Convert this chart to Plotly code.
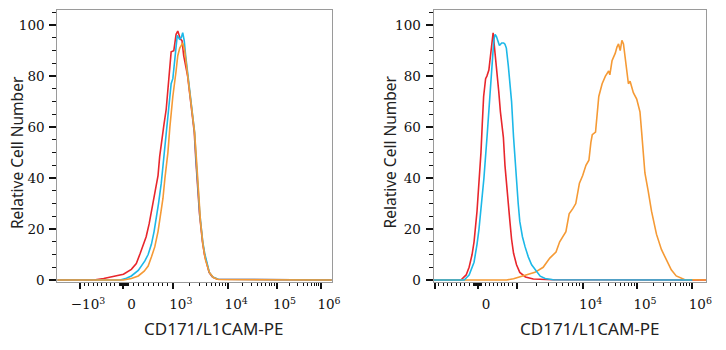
import math
import plotly.graph_objects as go

# ---------------- data (x = display channel on the biexponential scale, y = % of max) -------------
left_red_x = [0, 37, 47, 57, 67, 75, 80, 84, 87, 90, 93, 95.3, 98, 100.5, 102, 103.7, 105.3, 108, 110.3, 112, 113.7,
              115.3, 118, 120.3, 122, 124.7, 126.3, 128, 132, 135.3, 138.7, 140.3, 142, 144, 147, 149, 153.7, 157, 162, 278]
left_red_y = [0, 0, 0.6, 1.4, 2.3, 4.2, 6.5, 10.5, 13.5, 17, 22, 27, 32, 37, 41, 48.5, 53.6, 61, 67, 76, 84,
              89.5, 90, 96.4, 97.7, 94.5, 93.9, 88, 80, 70, 58, 47, 38, 26, 15, 10, 3, 1.2, 0.3, 0]

left_cyan_x = [0, 63.7, 70, 75, 82, 88.7, 92, 95.3, 98, 100.3, 102.5, 105.3, 107, 110.3, 112, 113.7, 115.3, 117, 118.7,
               120.3, 121.5, 123.7, 125.5, 127, 128.5, 130, 132.5, 135.5, 139, 140.6, 142.3, 144.3, 147.3, 149.5, 154,
               157.5, 163, 278]
left_cyan_y = [0, 0, 0.7, 1.6, 3.8, 7.5, 10, 14, 19, 24, 30, 38, 45, 56, 64, 72, 77, 79, 85,
               92, 96, 94.5, 95, 97, 94, 88, 80, 70, 58, 47, 38, 26, 15, 10, 3,
               1.2, 0.3, 0]

left_orange_x = [0, 67, 75, 82, 88, 92, 95.3, 98.7, 102, 104, 107, 109, 112, 114, 117, 120.3, 122, 124, 127, 129, 132,
                 135.3, 139, 141, 143, 145, 147.5, 150, 154, 158, 163, 278]
left_orange_y = [0, 0, 0.6, 1.6, 3.5, 5.5, 9, 13, 19, 24, 32, 40, 50, 60, 72, 82, 88, 91, 93, 90, 81,
                 71, 58, 47, 35, 23, 14, 8, 3, 1, 0.2, 0]

right_red_x = [0, 27.7, 33, 36, 39, 41, 44, 46, 48, 49.3, 50.7, 52.7, 54, 56, 57.7, 60.3, 62, 64, 66, 67.7, 70.7, 72.3,
               74.3, 77.3, 79, 81, 84, 87.3, 93, 101, 121, 276]
right_red_y = [0, 0, 2, 5, 10, 15, 27, 38, 50, 61, 72, 79, 80, 82.4, 89, 97, 90, 83, 74, 66, 56, 45,
               35, 23, 16, 10.5, 6, 3, 1.2, 0.4, 0.1, 0]

right_cyan_x = [0, 31, 36, 41, 44, 46, 48.5, 51, 54.3, 56, 57.7, 59.3, 61, 62.3, 63.7, 65, 66.7, 69, 71, 72.3, 73.7,
                75.7, 77, 79, 81, 82.5, 84, 85.7, 87.3, 90, 92.7, 96, 99.3, 104, 108, 113, 121, 262]
right_cyan_y = [0, 0, 2, 7, 14, 20, 30, 40, 57, 67, 76, 86, 94, 96.4, 95.5, 94, 92, 93, 93, 92.5, 91,
                84, 78, 70, 56, 47, 38, 30, 23, 17, 13, 9, 6, 3.5, 1.5, 0.6, 0.1, 0]

right_orange_x = [0, 74, 81, 90.7, 102.7, 111, 117.7, 124, 127.7, 134, 137.3, 141, 144, 147.7, 151, 154.3, 157.3, 159.3,
                  160.7, 164, 167.3, 170.7, 174, 177.3, 178.5, 180.7, 184, 185.7, 187.3, 189, 190.7, 192.3, 194.7,
                  197.3, 199, 202.3, 205.7, 209, 210.7, 212.3, 214, 217.3, 220.7, 225.7, 230.7, 235.7, 240.7, 245.7,
                  254, 276]
right_orange_y = [0, 0, 0.5, 1.5, 3, 5, 8.6, 11, 15, 19, 26, 28, 30, 38, 41, 45, 47, 54,
                  57, 58, 72, 77, 80, 82, 80.5, 86, 89, 91.4, 92.6, 90, 94, 92.6, 84,
                  77, 78, 73.5, 71, 66, 58, 50.6, 42, 35, 27, 18, 12, 8, 4, 1.6,
                  0.2, 0]

# axis labels
left_tick_values = [-1e3, 0, 1e3, 1e4, 1e5, 1e6]
left_tick_text = ["−10<sup>3</sup>", "0", "10<sup>3</sup>", "10<sup>4</sup>", "10<sup>5</sup>", "10<sup>6</sup>"]
right_tick_values = [-1e3, 0, 1e3, 1e4, 1e5, 1e6]
right_tick_text = ["", "0", "", "10<sup>4</sup>", "10<sup>5</sup>", "10<sup>6</sup>"]
y_tick_values = [0, 20, 40, 60, 80, 100]
x_title = "CD171/L1CAM-PE"
y_title = "Relative Cell Number"

# biexponential display calibration: value -> channel for each panel
left_cal = {-1e3: 23, 0: 67, 1e3: 117, 1e4: 173, 1e5: 222, 1e6: 267}
right_cal = {-1e3: 1, 0: 45, 1e3: 84, 1e4: 151, 1e5: 206, 1e6: 262}

RED, CYAN, ORANGE = "#e8262c", "#1cb8e8", "#f59a35"


def biex(v, cal):
    if v in cal:
        return cal[v]
    if v <= 0:
        return cal[0] + (cal[0] - cal[-1e3]) * v / 1e3
    if v <= 1e3:
        return cal[0] + (cal[1e3] - cal[0]) * v / 1e3
    k = min(5, int(math.floor(math.log10(v) + 1e-9)))
    lo, hi = 10.0 ** k, 10.0 ** (k + 1)
    return cal[lo] + (cal[hi] - cal[lo]) * (math.log10(v) - k)


def minor_values():
    vals = []
    for s in (-1, 1):
        vals += [s * m * 10 for m in range(1, 10)]
        vals += [s * m * 100 for m in range(1, 10)]
    for k in (3, 4, 5):
        vals += [m * 10 ** k for m in range(2, 10)]
    return vals


fig = go.Figure()
for xs, ys, col, ax in [
    (left_red_x, left_red_y, RED, "x"),
    (left_cyan_x, left_cyan_y, CYAN, "x"),
    (left_orange_x, left_orange_y, ORANGE, "x"),
    (right_red_x, right_red_y, RED, "x2"),
    (right_orange_x, right_orange_y, ORANGE, "x2"),
    (right_cyan_x, right_cyan_y, CYAN, "x2"),
]:
    fig.add_trace(go.Scatter(x=xs, y=ys, mode="lines", line=dict(color=col, width=1.6),
                             xaxis=ax, yaxis="y" if ax == "x" else "y2", showlegend=False,
                             hoverinfo="skip"))

W, H = 726, 350
tickfont = dict(family="DejaVu Serif", size=13.5, color="#111")


def xaxis(dom, cal, tv, tt, rng, anchor):
    return dict(domain=dom, range=rng, anchor=anchor, showgrid=False, zeroline=False,
                showline=True, mirror=True, linecolor="#9a9a9a", linewidth=1,
                tickmode="array", tickvals=[biex(v, cal) for v in tv], ticktext=tt,
                ticks="outside", ticklen=6, tickwidth=2, tickcolor="#111",
                tickfont=tickfont, ticklabelshift=8, ticklabelstandoff=4,
                minor=dict(tickmode="array", tickvals=[biex(v, cal) for v in minor_values()],
                           ticks="outside", ticklen=3, tickwidth=1, tickcolor="#111"))


def yaxis(anchor, dom):
    return dict(domain=dom, anchor=anchor, range=[-0.8, 106], showgrid=False, zeroline=False,
                showline=True, mirror=True, linecolor="#9a9a9a", linewidth=1,
                tickmode="array", tickvals=y_tick_values, ticks="outside", ticklen=7, tickwidth=2,
                tickcolor="#111", tickfont=tickfont, ticklabelstandoff=2,
                minor=dict(dtick=5, ticks="outside", ticklen=4, tickwidth=1, tickcolor="#111"))


ydom = [(350 - 287) / H, (350 - 10) / H]
fig.update_layout(
    width=W, height=H, margin=dict(l=0, r=0, t=0, b=0),
    paper_bgcolor="white", plot_bgcolor="white",
    xaxis=xaxis([58 / W, 336 / W], left_cal, left_tick_values, left_tick_text, [0, 278], "y"),
    xaxis2=xaxis([439 / W, 715 / W], right_cal, right_tick_values, right_tick_text, [0, 276], "y2"),
    yaxis=yaxis("x", ydom),
    yaxis2=yaxis("x2", ydom),
)

for xc in (217, 597):
    fig.add_annotation(text=x_title, x=xc / W, y=(350 - 334) / H, xref="paper", yref="paper",
                       showarrow=False, xanchor="center", yanchor="middle",
                       font=dict(family="Noto Sans", size=17, color="#222"))
for xc in (18, 395):
    fig.add_annotation(text=y_title, x=xc / W, y=(350 - 155) / H, xref="paper", yref="paper",
                       showarrow=False, xanchor="center", yanchor="middle", textangle=-90,
                       font=dict(family="Noto Sans", size=15.5, color="#222"))

fig.write_html("out.html")
